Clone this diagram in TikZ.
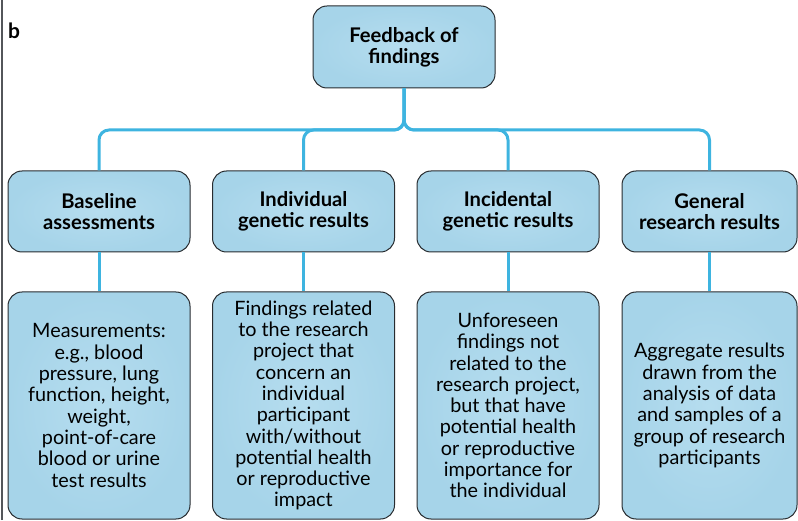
\documentclass[tikz,border=0pt]{standalone}
\usepackage{fontspec}
\setmainfont{Lato}
\definecolor{boxfill}{RGB}{166,212,233}
\definecolor{boxlight}{RGB}{182,221,239}
\definecolor{boxedge}{RGB}{40,44,48}
\definecolor{linkblue}{RGB}{62,180,224}
\begin{document}
\begin{tikzpicture}[x=1pt, y=1pt,
    box/.style={draw=boxedge, line width=1pt, rounded corners=14pt,
        inner color=boxlight, outer color=boxfill, align=center, inner sep=0pt},
    head/.style={box, font=\fontsize{20.2}{21}\selectfont\bfseries,
        minimum width=182pt, minimum height=81pt},
    info/.style={box, font=\fontsize{19.8}{21.3}\selectfont,
        minimum width=182pt, minimum height=227pt},
    link/.style={draw=linkblue, line width=3pt, rounded corners=10pt}]
    \useasboundingbox (0,0) rectangle (798,520);
    \draw[boxedge!80, line width=1.3pt] (2,0) -- (2,520);
    \node[font=\fontsize{21}{21}\selectfont\bfseries, anchor=base west, inner sep=0pt] (panel) at (8,481) {b};

    \node[head, minimum height=82pt] (feedback) at (404,473) {Feedback of\\findings};

    \node[head] (baseline) at (99,308.5) {Baseline\\assessments};
    \node[head] (individual) at (303.5,308.5) {Individual\\genetic results};
    \node[head] (incidental) at (508,308.5) {Incidental\\genetic results};
    \node[head, minimum width=175pt] (general) at (709.5,308.5) {General\\research results};

    \node[info] (baselineTxt) at (99,114.5) {Measurements:\\e.g., blood\\pressure, lung\\function, height,\\weight,\\point-of-care\\blood or urine\\test results};
    \node[info] (individualTxt) at (303.5,114.5) {Findings related\\to the research\\project that\\concern an\\individual\\participant\\with/without\\potential health\\or reproductive\\impact};
    \node[info] (incidentalTxt) at (508,114.5) {Unforeseen\\findings not\\related to the\\research project,\\but that have\\potential health\\or reproductive\\importance for\\the individual};
    \node[info, minimum width=175pt] (generalTxt) at (709.5,114.5) {Aggregate results\\drawn from the\\analysis of data\\and samples of a\\group of research\\participants};

    \coordinate (bus) at (404,390);
    \draw[link] (feedback.south) -- (bus) -| (baseline.north);
    \draw[link] (feedback.south) -- (bus) -| (individual.north);
    \draw[link] (feedback.south) -- (bus) -| (incidental.north);
    \draw[link] (feedback.south) -- (bus) -| (general.north);

    \draw[link] (baseline.south) -- (baselineTxt.north);
    \draw[link] (individual.south) -- (individualTxt.north);
    \draw[link] (incidental.south) -- (incidentalTxt.north);
    \draw[link] (general.south) -- (generalTxt.north);
\end{tikzpicture}
\end{document}
